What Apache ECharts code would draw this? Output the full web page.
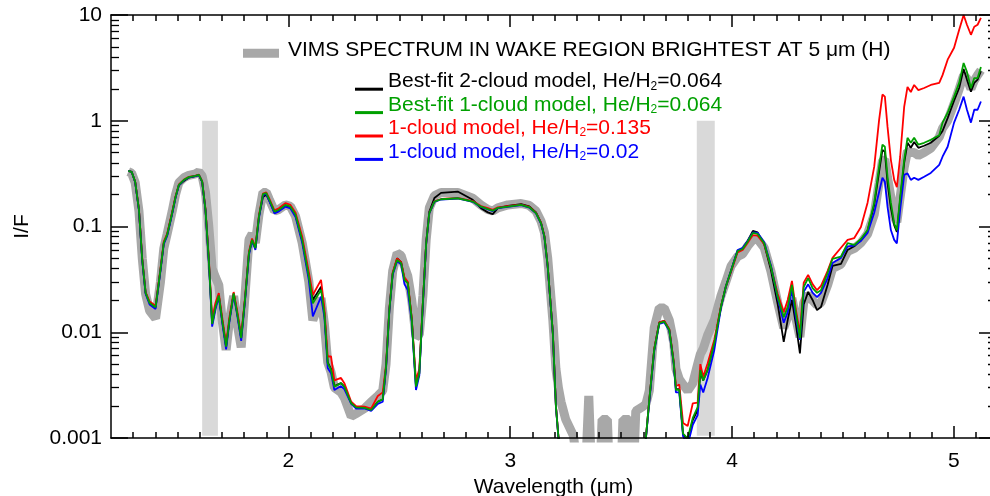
<!DOCTYPE html>
<html>
<head>
<meta charset="utf-8">
<script src="https://cdn.jsdelivr.net/npm/echarts@6/dist/echarts.min.js"></script>
<style>
  html, body { margin: 0; padding: 0; background: #fff; }
  #chart { width: 990px; height: 496px; }
</style>
</head>
<body>
<div id="chart"></div>
<script>
// Wavelength grid (µm) shared by every spectrum
const wavelength = [
  1.278,1.293,1.309,1.326,1.341,1.356,1.374,1.401,1.423,1.438,
  1.453,1.476,1.491,1.506,1.529,1.551,1.581,1.596,1.611,1.626,
  1.641,1.656,1.671,1.686,1.701,1.719,1.734,1.753,1.769,1.787,
  1.804,1.822,1.836,1.851,1.867,1.885,1.900,1.914,1.937,1.957,
  1.986,2.009,2.032,2.062,2.092,2.110,2.147,2.162,2.177,2.192,
  2.207,2.237,2.252,2.283,2.305,2.343,2.373,2.403,2.425,2.440,
  2.455,2.470,2.490,2.508,2.523,2.538,2.556,2.575,2.590,2.606,
  2.621,2.635,2.658,2.688,2.763,2.831,2.868,2.899,2.921,2.944,
  2.989,3.049,3.086,3.116,3.139,3.154,3.169,3.192,3.206,3.217,
  3.229,3.250,3.285,3.300,3.340,3.354,3.366,3.405,3.414,3.438,
  3.446,3.500,3.508,3.536,3.544,3.556,3.566,3.600,3.612,3.627,
  3.649,3.672,3.694,3.717,3.737,3.747,3.762,3.779,3.800,3.823,
  3.845,3.857,3.870,3.890,3.920,3.950,3.972,3.995,4.025,4.048,
  4.070,4.094,4.115,4.145,4.175,4.206,4.233,4.251,4.270,4.288,
  4.306,4.323,4.343,4.363,4.383,4.401,4.431,4.453,4.491,4.521,
  4.551,4.581,4.611,4.641,4.663,4.678,4.689,4.701,4.716,4.731,
  4.743,4.758,4.776,4.791,4.806,4.821,4.840,4.866,4.896,4.934,
  4.949,4.972,5.001,5.024,5.044,5.059,5.077,5.092,5.107,5.122
];

// Observed VIMS I/F in the wake region
const vimsSpectrum = [
  0.33,0.32,0.26,0.14,0.05,0.023,0.016,0.0135,0.03,0.062,
  0.085,0.14,0.2,0.26,0.29,0.305,0.315,0.33,0.30,0.21,
  0.1,0.04,0.033,0.028,0.013,0.0068,0.013,0.022,0.012,0.0072,
  0.022,0.075,0.085,0.07,0.13,0.21,0.21,0.18,0.14,0.145,
  0.16,0.155,0.125,0.07,0.03,0.013,0.021,0.012,0.0052,0.0042,
  0.003,0.0027,0.0024,0.0016,0.0017,0.0019,0.0022,0.0025,0.0028,0.005,
  0.017,0.038,0.056,0.053,0.042,0.034,0.02,0.009,0.0095,0.022,
  0.075,0.15,0.195,0.21,0.21,0.185,0.16,0.145,0.14,0.15,
  0.16,0.165,0.158,0.14,0.112,0.088,0.05,0.013,0.0045,0.003,
  0.0022,0.0015,0.00105,0.0006,0.0005,0.0025,0.0005,0.0005,0.0015,0.0015,
  0.0005,0.0005,0.0015,0.0015,0.0005,0.0005,0.0018,0.002,0.0021,0.0028,
  0.011,0.017,0.017,0.013,0.008,0.0045,0.0036,0.0032,0.0028,0.0033,
  0.005,0.0062,0.007,0.0094,0.013,0.022,0.03,0.042,0.052,0.055,
  0.065,0.075,0.076,0.063,0.038,0.019,0.011,0.014,0.021,0.0135,
  0.009,0.019,0.023,0.02,0.018,0.019,0.028,0.04,0.044,0.058,
  0.062,0.07,0.085,0.13,0.26,0.42,0.43,0.29,0.19,0.125,
  0.11,0.19,0.36,0.52,0.5,0.5,0.47,0.5,0.55,0.7,
  0.85,1.0,1.45,2.0,2.7,2.5,2.0,2.4,2.7,3.0
];

// Best-fit 2-cloud model, He/H2 = 0.064
const twoCloudBest = [
  0.336,0.329,0.264,0.144,0.048,0.0236,0.0189,0.0172,0.0388,0.070,
  0.0832,0.135,0.19,0.245,0.27,0.29,0.30,0.308,0.266,0.144,
  0.048,0.012,0.0173,0.0223,0.0131,0.0073,0.0131,0.0233,0.0151,0.0088,
  0.0202,0.056,0.0747,0.0623,0.124,0.19,0.2,0.175,0.136,0.142,
  0.158,0.152,0.127,0.074,0.034,0.0202,0.027,0.0152,0.0052,0.0045,
  0.0031,0.0033,0.00306,0.00213,0.00195,0.00193,0.00184,0.0022,0.00232,0.0047,
  0.0163,0.036,0.05,0.046,0.032,0.0295,0.0133,0.0031,0.0041,0.0188,
  0.07,0.138,0.186,0.208,0.214,0.179,0.149,0.136,0.131,0.149,
  0.157,0.163,0.155,0.136,0.108,0.081,0.042,0.0099,0.002,0.00104,
  0.0006,0.0003,0.0002,0.0002,0.0002,0.0002,0.0002,0.0002,0.0002,0.0002,
  0.0002,0.0002,0.0002,0.0002,0.0002,0.0002,0.0003,0.0005,0.00103,0.0023,
  0.0069,0.0124,0.0128,0.0106,0.0052,0.0029,0.0029,0.00109,0.00096,0.00148,
  0.00184,0.0042,0.0035,0.0044,0.0079,0.0174,0.027,0.038,0.059,0.062,
  0.073,0.091,0.088,0.068,0.039,0.0183,0.0081,0.0131,0.0202,0.0118,
  0.0063,0.0183,0.0241,0.0202,0.0162,0.0173,0.0281,0.0424,0.0444,0.060,
  0.065,0.0747,0.091,0.160,0.330,0.531,0.508,0.259,0.150,0.103,
  0.089,0.179,0.400,0.619,0.555,0.63,0.555,0.58,0.619,0.72,
  0.80,1.06,1.55,2.04,3.09,2.45,1.88,2.28,2.45,2.94
];

// Best-fit 1-cloud model, He/H2 = 0.064
const oneCloudBest = [
  0.336,0.329,0.264,0.144,0.048,0.0236,0.0189,0.0172,0.0388,0.070,
  0.0832,0.135,0.19,0.248,0.276,0.293,0.301,0.308,0.266,0.144,
  0.048,0.012,0.0173,0.0223,0.0131,0.0073,0.0131,0.0233,0.0151,0.0088,
  0.0202,0.056,0.0747,0.0623,0.124,0.202,0.207,0.179,0.138,0.144,
  0.160,0.154,0.129,0.0747,0.0336,0.0188,0.0251,0.0151,0.0051,0.0044,
  0.00306,0.0033,0.00306,0.00213,0.00195,0.00193,0.00184,0.0022,0.00232,0.0047,
  0.0163,0.036,0.0483,0.045,0.0313,0.0291,0.0131,0.00306,0.0041,0.0188,
  0.0695,0.134,0.172,0.181,0.185,0.172,0.154,0.146,0.141,0.150,
  0.154,0.160,0.152,0.134,0.107,0.0802,0.0418,0.0098,0.00198,0.00103,
  0.0006,0.0003,0.0002,0.0002,0.0002,0.0002,0.0002,0.0002,0.0002,0.0002,
  0.0002,0.0002,0.0002,0.0002,0.0002,0.0002,0.0003,0.0005,0.00103,0.00229,
  0.0068,0.0122,0.0126,0.0105,0.0051,0.00285,0.00285,0.0011,0.00099,0.00155,
  0.00196,0.0044,0.0035,0.0044,0.0079,0.0174,0.0271,0.038,0.0587,0.0613,
  0.0719,0.0869,0.0851,0.0695,0.0418,0.0215,0.0139,0.0173,0.0281,0.0152,
  0.0088,0.0268,0.0325,0.0262,0.0236,0.025,0.0365,0.0495,0.0518,0.0695,
  0.0669,0.0763,0.0925,0.168,0.368,0.594,0.568,0.295,0.168,0.107,
  0.0925,0.191,0.427,0.69,0.619,0.69,0.594,0.619,0.66,0.73,
  0.96,1.19,1.69,2.28,3.52,2.90,2.04,2.53,2.53,3.23
];

// 1-cloud model, He/H2 = 0.135
const oneCloudHighHe = [
  0.336,0.329,0.266,0.146,0.049,0.024,0.0195,0.0178,0.04,0.072,
  0.085,0.138,0.193,0.25,0.278,0.295,0.303,0.31,0.268,0.147,
  0.05,0.0135,0.019,0.0235,0.014,0.0078,0.014,0.024,0.016,0.0093,
  0.021,0.058,0.077,0.064,0.127,0.205,0.21,0.183,0.142,0.149,
  0.166,0.16,0.135,0.08,0.037,0.0225,0.0313,0.017,0.0059,0.0059,
  0.0035,0.0037,0.0033,0.0022,0.002,0.00198,0.0019,0.0025,0.0027,0.0049,
  0.0166,0.037,0.05,0.046,0.033,0.03,0.0135,0.0035,0.0045,0.019,
  0.07,0.134,0.173,0.182,0.186,0.174,0.156,0.149,0.144,0.152,
  0.156,0.161,0.153,0.135,0.108,0.081,0.042,0.0099,0.002,0.00104,
  0.0006,0.0003,0.0002,0.0002,0.0002,0.0002,0.0002,0.0002,0.0002,0.0002,
  0.0002,0.0002,0.0002,0.0002,0.0002,0.0002,0.0003,0.0005,0.00103,0.0023,
  0.0069,0.0124,0.0128,0.0107,0.0053,0.0031,0.0032,0.00139,0.0013,0.00213,
  0.00216,0.005,0.0038,0.0051,0.0085,0.0176,0.027,0.037,0.057,0.06,
  0.07,0.083,0.082,0.068,0.042,0.023,0.0155,0.0202,0.0306,0.0163,
  0.0098,0.0294,0.0349,0.0285,0.025,0.0274,0.038,0.0505,0.0629,0.0747,
  0.0778,0.099,0.168,0.368,1.02,1.77,1.69,0.874,0.427,0.276,
  0.236,0.457,1.35,2.09,1.87,2.18,1.95,2.04,2.18,2.28,
  2.70,3.78,4.90,7.26,10.0,8.09,6.50,7.74,8.09,9.4
];

// 1-cloud model, He/H2 = 0.02
const oneCloudLowHe = [
  0.336,0.329,0.262,0.142,0.047,0.023,0.0183,0.0166,0.0378,0.068,
  0.081,0.132,0.187,0.245,0.274,0.291,0.299,0.306,0.264,0.141,
  0.046,0.0113,0.0165,0.0215,0.0125,0.0069,0.0126,0.0226,0.0145,0.0083,
  0.0195,0.054,0.073,0.06,0.12,0.198,0.203,0.174,0.133,0.139,
  0.154,0.148,0.123,0.07,0.031,0.0141,0.0217,0.014,0.0046,0.0041,
  0.00284,0.0031,0.0029,0.0021,0.0019,0.0019,0.0018,0.0021,0.0022,0.0045,
  0.016,0.035,0.047,0.044,0.0285,0.025,0.0125,0.00284,0.0039,0.018,
  0.068,0.133,0.171,0.18,0.184,0.171,0.153,0.145,0.14,0.149,
  0.153,0.159,0.151,0.133,0.106,0.079,0.041,0.0097,0.00196,0.00102,
  0.0006,0.0003,0.0002,0.0002,0.0002,0.0002,0.0002,0.0002,0.0002,0.0002,
  0.0002,0.0002,0.0002,0.0002,0.0002,0.0002,0.0003,0.0005,0.001,0.0022,
  0.0066,0.012,0.0124,0.0103,0.005,0.0027,0.0027,0.00104,0.00086,0.00133,
  0.00165,0.0032,0.0027,0.0037,0.0068,0.017,0.0271,0.038,0.06,0.063,
  0.073,0.088,0.087,0.071,0.043,0.021,0.0123,0.0155,0.0251,0.0136,
  0.0085,0.0241,0.0284,0.0237,0.0215,0.0236,0.0325,0.0452,0.0505,0.0648,
  0.066,0.073,0.087,0.135,0.212,0.289,0.265,0.153,0.0925,0.0747,
  0.0692,0.144,0.308,0.318,0.276,0.289,0.276,0.295,0.321,0.382,
  0.457,0.568,0.96,1.27,1.69,1.27,0.96,1.27,1.27,1.52
];

// Shaded wavelength bands [start, end] (µm) and their I/F extent
const shadedBands = [[1.611, 1.682], [3.841, 3.922]];
const shadedRange = [0.00105, 1];

// Axis ticks
const xMajorTicks = [2, 3, 4, 5];
const xMinorTicks = [1.3,1.4,1.5,1.6,1.7,1.8,1.9,2.1,2.2,2.3,2.4,2.5,2.6,2.7,2.8,2.9,
                     3.1,3.2,3.3,3.4,3.5,3.6,3.7,3.8,3.9,4.1,4.2,4.3,4.4,4.5,4.6,4.7,4.8,4.9,5.1];
const yMajorTicks = [0.001, 0.01, 0.1, 1, 10];
const yMinorTicks = [0.002,0.003,0.004,0.005,0.006,0.007,0.008,0.009,
                     0.02,0.03,0.04,0.05,0.06,0.07,0.08,0.09,
                     0.2,0.3,0.4,0.5,0.6,0.7,0.8,0.9,
                     2,3,4,5,6,7,8,9];

const LABEL_VIMS = 'VIMS SPECTRUM IN WAKE REGION BRIGHTEST AT 5 μm (H)';
const LABEL_2C = 'Best-fit 2-cloud model, He/H2=0.064';
const LABEL_1C = 'Best-fit 1-cloud model, He/H2=0.064';
const LABEL_HI = '1-cloud model, He/H2=0.135';
const LABEL_LO = '1-cloud model, He/H2=0.02';

const FONT = "'Liberation Sans', Arial, sans-serif";
const GRAY = '#a8a8a8';
const C_BLACK = '#000000', C_GREEN = '#00a000', C_RED = '#ff0000', C_BLUE = '#0000ff';

[vimsSpectrum, twoCloudBest, oneCloudBest, oneCloudHighHe, oneCloudLowHe].forEach(a => {
  if (a.length !== wavelength.length) throw new Error('length mismatch ' + a.length);
});

const pairs = ys => wavelength.map((w, i) => [w, ys[i]]);

const X_MIN = 1.2, X_MAX = 5.19;
const Y_MIN = yMajorTicks[0], Y_MAX = yMajorTicks[yMajorTicks.length - 1];
const axisLineStyle = { color: '#000', width: 1.5 };

function xAxisDef(position, ticks, len, showLine, showLabel) {
  const ax = {
    type: 'value', position, min: X_MIN, max: X_MAX, z: 10,
    axisLine: { show: showLine, onZero: false, lineStyle: axisLineStyle },
    axisTick: { inside: true, length: len, customValues: ticks, lineStyle: { color: '#000', width: 1.5 } },
    axisLabel: { show: showLabel, customValues: ticks, color: '#000', fontSize: 21, fontFamily: FONT, margin: 13 },
    splitLine: { show: false }
  };
  if (showLabel) {
    ax.name = 'Wavelength (μm)';
    ax.nameLocation = 'middle';
    ax.nameGap = 34;
    ax.nameTextStyle = { color: '#000', fontSize: 21, fontFamily: FONT };
  }
  return ax;
}

// Main logarithmic I/F axis (decade ticks and labels)
function yLogAxisDef(position, showLabel) {
  const ax = {
    type: 'log', logBase: 10, position, min: Y_MIN, max: Y_MAX, z: 10,
    axisLine: { show: true, onZero: false, lineStyle: axisLineStyle },
    axisTick: { inside: true, length: 17, lineStyle: { color: '#000', width: 1.5 } },
    axisLabel: { show: showLabel, color: '#000', fontSize: 21, fontFamily: FONT, margin: 9 },
    splitLine: { show: false },
    minorTick: { show: false }
  };
  if (showLabel) {
    ax.name = 'I/F';
    ax.nameLocation = 'middle';
    ax.nameGap = 78;
    ax.nameTextStyle = { color: '#000', fontSize: 21, fontFamily: FONT };
  }
  return ax;
}

// Companion axis in log10 units carrying the 2..9 minor ticks of each decade
function yMinorAxisDef(position) {
  return {
    type: 'value', position, min: Math.log10(Y_MIN), max: Math.log10(Y_MAX), z: 10,
    axisLine: { show: false, onZero: false },
    axisTick: { inside: true, length: 8, customValues: yMinorTicks.map(v => Math.log10(v)),
                lineStyle: { color: '#000', width: 1.3 } },
    axisLabel: { show: false },
    splitLine: { show: false }
  };
}

function modelSeries(name, data, color, z) {
  return {
    name, type: 'line', data: pairs(data), color,
    showSymbol: false, symbol: 'none', z,
    lineStyle: { color, width: 1.8 },
    emphasis: { disabled: true }
  };
}

const modelIcon = 'path://M0,0 M0,16.5 L28,16.5 L28,19.5 L0,19.5 Z M28,21';
const vimsIcon = 'path://M0,0 M0,9.3 L36,9.3 L36,18.3 L0,18.3 Z M40,21';

const chart = echarts.init(document.getElementById('chart'), null, { renderer: 'canvas' });
chart.setOption({
  animation: false,
  backgroundColor: '#fff',
  textStyle: { fontFamily: FONT },
  grid: { left: 111, top: 15, width: 885, height: 423, containLabel: false, outerBoundsMode: 'none' },
  xAxis: [
    xAxisDef('bottom', xMajorTicks, 12, true, true),
    xAxisDef('top', xMajorTicks, 12, true, false),
    xAxisDef('bottom', xMinorTicks, 6, false, false),
    xAxisDef('top', xMinorTicks, 6, false, false)
  ],
  yAxis: [
    yLogAxisDef('left', true),
    yLogAxisDef('right', false),
    yMinorAxisDef('left'),
    yMinorAxisDef('right')
  ],
  legend: [
    {
      left: 243, top: 39.5, padding: 0, selectedMode: false,
      itemWidth: 40, itemHeight: 21,
      textStyle: { fontSize: 21, lineHeight: 21, fontFamily: FONT, color: '#000' },
      data: [{ name: LABEL_VIMS, icon: vimsIcon, itemStyle: { color: GRAY, borderWidth: 0 } }]
    },
    {
      left: 355, top: 71.2, padding: 0, orient: 'vertical', itemGap: 2.4, selectedMode: false,
      itemWidth: 28, itemHeight: 21,
      formatter: n => n.replace('He/H2', 'He/H{sub|2}'),
      textStyle: {
        fontSize: 21, lineHeight: 21, fontFamily: FONT,
        rich: { sub: { fontSize: 12, lineHeight: 1, verticalAlign: 'bottom', fontFamily: FONT } }
      },
      data: [
        { name: LABEL_2C, icon: modelIcon, itemStyle: { color: C_BLACK, borderWidth: 0 }, textStyle: { color: C_BLACK } },
        { name: LABEL_1C, icon: modelIcon, itemStyle: { color: C_GREEN, borderWidth: 0 }, textStyle: { color: C_GREEN } },
        { name: LABEL_HI, icon: modelIcon, itemStyle: { color: C_RED, borderWidth: 0 }, textStyle: { color: C_RED } },
        { name: LABEL_LO, icon: modelIcon, itemStyle: { color: C_BLUE, borderWidth: 0 }, textStyle: { color: C_BLUE } }
      ]
    }
  ],
  series: [
    {
      name: 'bands', type: 'line', data: [], z: 1,
      markArea: {
        silent: true,
        itemStyle: { color: '#d9d9d9' },
        data: shadedBands.map(b => [{ xAxis: b[0], yAxis: shadedRange[1] }, { xAxis: b[1], yAxis: shadedRange[0] }])
      }
    },
    {
      name: LABEL_VIMS, type: 'line', data: pairs(vimsSpectrum), color: GRAY,
      showSymbol: false, symbol: 'none', z: 2,
      lineStyle: { color: GRAY, width: 9 },
      emphasis: { disabled: true }
    },
    modelSeries(LABEL_2C, twoCloudBest, C_BLACK, 3),
    modelSeries(LABEL_HI, oneCloudHighHe, C_RED, 4),
    modelSeries(LABEL_LO, oneCloudLowHe, C_BLUE, 5),
    modelSeries(LABEL_1C, oneCloudBest, C_GREEN, 6)
  ]
});
</script>
</body>
</html>
